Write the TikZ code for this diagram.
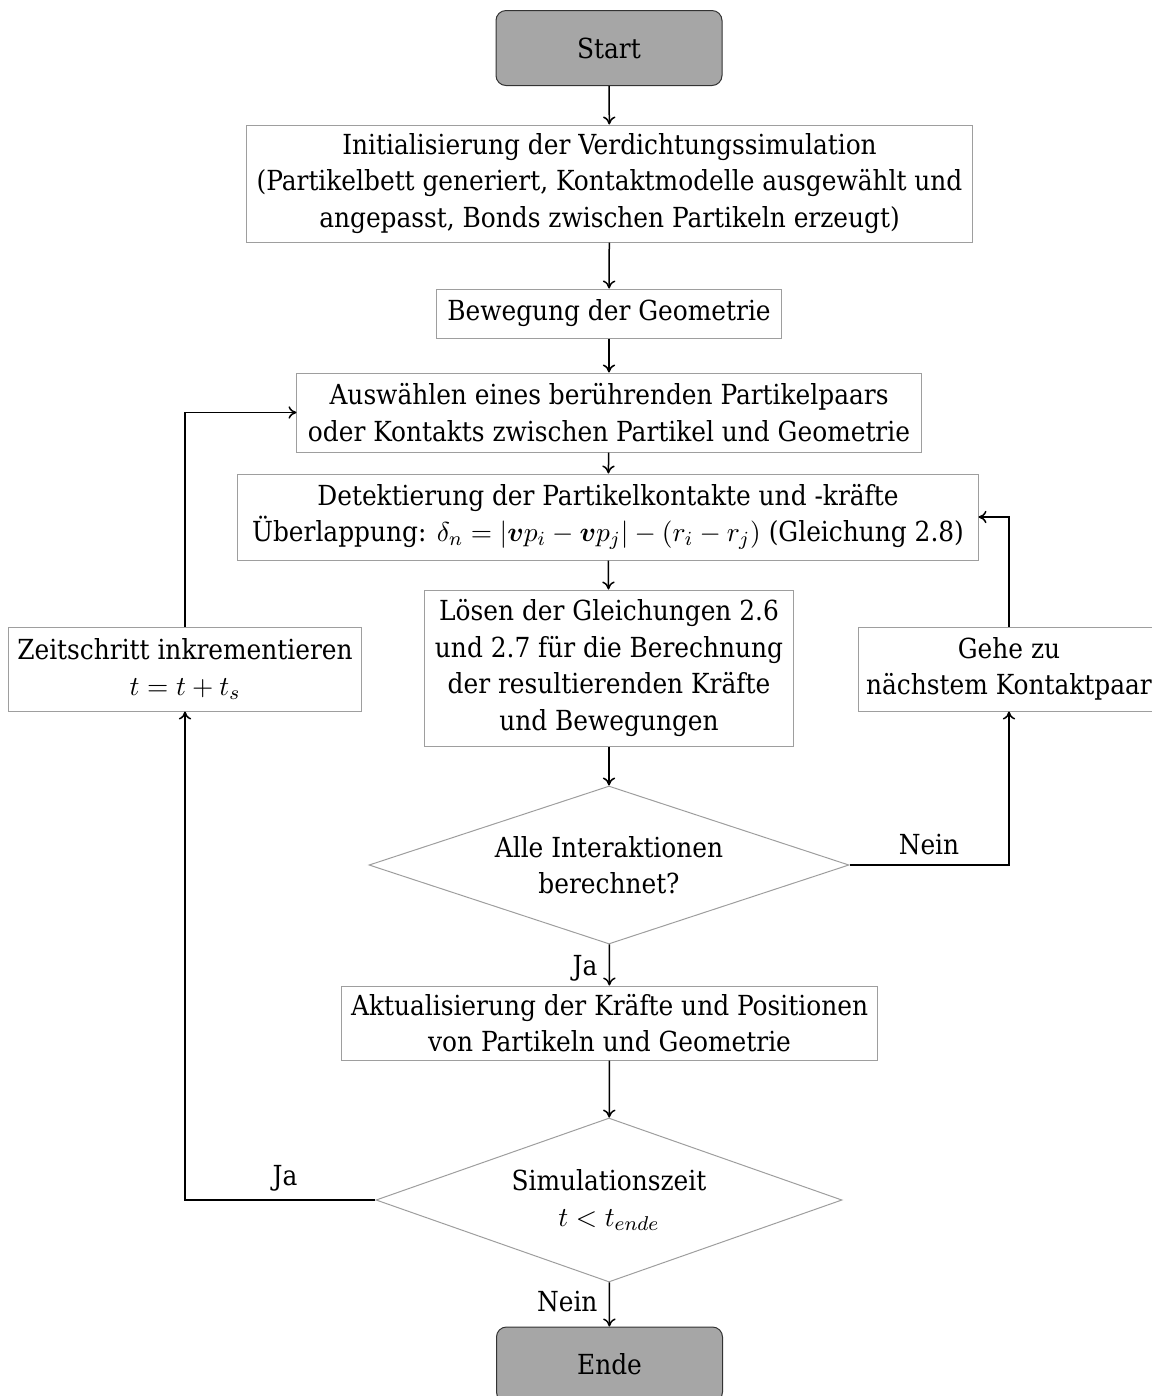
\documentclass[tikz,border=0pt]{standalone}
\usepackage{amsmath,bm}
\usepackage{fontspec}
\setmainfont{DejaVu Serif Condensed}
\usetikzlibrary{shapes.geometric,arrows.meta}
\tikzset{
  txt/.style={font=\fontsize{11.05}{14.6}\selectfont},
  box/.style={txt, draw=black!38, line width=0.4pt, inner sep=0pt, align=center},
  term/.style={txt, draw=black!80, fill=black!35, rounded corners=4pt, line width=0.4pt, inner sep=0pt, minimum width=90.4pt, minimum height=30pt},
  dec/.style={txt, diamond, aspect=3, draw=black!38, line width=0.4pt, inner sep=0pt, align=center},
  arr/.style={-{To[length=3.2pt,width=5pt]}, line width=0.6pt},
  lbl/.style={txt, inner sep=0pt}
}
\begin{document}
\begin{tikzpicture}[x=0.4pt,y=-0.4pt]
\useasboundingbox (0,0) rectangle (1152,1396);
\node[term] (start) at (609,48) {Start};
\node[box, minimum width=290pt, minimum height=46.8pt] (init) at (609.5,183.5) {Initialisierung der Verdichtungssimulation\\(Partikelbett generiert, Kontaktmodelle ausgewählt und\\angepasst, Bonds zwischen Partikeln erzeugt)};
\node[box, minimum width=137.6pt, minimum height=19.6pt] (bew) at (609,313.5) {Bewegung der Geometrie};
\node[box, minimum width=249.6pt, minimum height=31.6pt] (ausw) at (609,412.5) {Auswählen eines berührenden Partikelpaars\\oder Kontakts zwischen Partikel und Geometrie};
\node[box, minimum width=296pt, minimum height=34.4pt] (det) at (608,517) {Detektierung der Partikelkontakte und -kräfte\\Überlappung: $\delta_n=|\bm{v}p_i-\bm{v}p_j|-(r_i-r_j)$ (Gleichung 2.8)};
\node[box, minimum width=147.2pt, minimum height=62.4pt] (loes) at (609,668) {Lösen der Gleichungen 2.6\\und 2.7 für die Berechnung\\der resultierenden Kräfte\\und Bewegungen};
\node[dec, minimum width=192pt, minimum height=63.2pt] (d1) at (609,865) {Alle Interaktionen\\berechnet?};
\node[box, minimum width=214pt, minimum height=29.6pt] (akt) at (609.5,1023) {Aktualisierung der Kräfte und Positionen\\von Partikeln und Geometrie};
\node[dec, minimum width=186.4pt, minimum height=65.6pt] (d2) at (609,1200) {Simulationszeit\\$t<t_{ende}$};
\node[term] (ende) at (609.5,1364.5) {Ende};
\node[box, minimum width=140.8pt, minimum height=33.6pt] (zeit) at (185,669) {Zeitschritt inkrementieren\\$t=t+t_s$};
\node[box, minimum width=120.8pt, minimum height=33.6pt] (gehe) at (1009,669) {Gehe zu\\nächstem Kontaktpaar};
\draw[arr] (start) -- (init);
\draw[arr] (init) -- (bew);
\draw[arr] (bew) -- (ausw);
\draw[arr] (ausw) -- (det);
\draw[arr] (det) -- (loes);
\draw[arr] (loes) -- (d1);
\draw[arr] (d1) -- (akt);
\draw[arr] (akt) -- (d2);
\draw[arr] (d2) -- (ende);
\draw[arr] (d1.east) -| (gehe.south);
\draw[arr] (gehe.north) |- (det.east);
\draw[arr] (d2.west) -| (zeit.south);
\draw[arr] (zeit.north) |- (ausw.west);
\node[lbl, anchor=east] at (598,968) {Ja};
\node[lbl] at (929,845) {Nein};
\node[lbl] at (285,1178) {Ja};
\node[lbl, anchor=east] at (598,1302) {Nein};
\end{tikzpicture}
\end{document}
